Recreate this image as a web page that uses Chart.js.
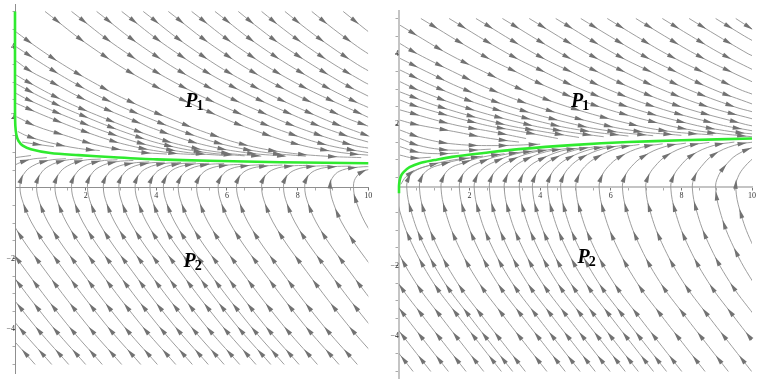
<!DOCTYPE html>
<html><head><meta charset="utf-8">
<script src="https://cdn.jsdelivr.net/npm/chart.js@4.4.1/dist/chart.umd.min.js"></script>
<style>
html,body{margin:0;padding:0;background:#fff;}
#wrap{position:relative;width:766px;height:384px;overflow:hidden;}
canvas{position:absolute;top:0;}
</style></head><body>
<div id="wrap">
<canvas id="c1" width="383" height="384" style="left:0"></canvas>
<canvas id="c2" width="383" height="384" style="left:383px"></canvas>
</div>
<script>
// ---------- tick values / labels ----------
const xTickValues = [0,0.5,1,1.5,2,2.5,3,3.5,4,4.5,5,5.5,6,6.5,7,7.5,8,8.5,9,9.5,10];
const yTickValues = [-5,-4.5,-4,-3.5,-3,-2.5,-2,-1.5,-1,-0.5,0.5,1,1.5,2,2.5,3,3.5,4,4.5,5];
const xMajor = [2,4,6,8,10];
const xTickLabels = ['2','4','6','8','10'];
const yMajor = [-4,-2,2,4];
const yTickLabels = ['\u22124','\u22122','2','4'];

// ---------- region labels ----------
const leftRegionLabels = [{sub:'1', x:4.82, y:2.29}, {sub:'2', x:4.77, y:-2.25}];
const rightRegionLabels = [{sub:'1', x:4.87, y:2.48}, {sub:'2', x:5.06, y:-1.93}];

// ---------- LEFT panel ----------
const leftGreen = [[0,5],[0,4],[0,3],[0,2.2],[0.01,1.75],[0.04,1.5],[0.1,1.33],[0.22,1.2],[0.45,1.1],[1,0.99],[1.8,0.93],[2.8,0.87],[4,0.81],[5.5,0.77],[7.5,0.73],[10,0.7]];

const leftTopLines = [
[[9.29,5],[9.91,4.5],[10,4.43]],
[[8.4,5],[9.02,4.5],[9.7,4],[10,3.8]],
[[7.64,5],[8.26,4.5],[8.94,4],[9.69,3.5],[10,3.32]],
[[6.98,5],[7.6,4.5],[8.28,4],[9.03,3.5],[9.88,3],[10,2.94]],
[[6.32,5],[6.94,4.5],[7.62,4],[9.22,3],[10,2.6]],
[[5.66,5],[6.96,4],[8.56,3],[9.51,2.5],[10,2.28]],
[[5,5],[6.3,4],[7.9,3],[10,2]],
[[4.34,5],[5.64,4],[7.24,3],[9.34,2],[10,1.75]],
[[3.63,5],[4.93,4],[6.53,3],[8.63,2],[9.93,1.5],[10,1.48]],
[[3.02,5],[4.32,4],[5.92,3],[8.02,2],[9.32,1.5],[10,1.3]],
[[2.31,5],[3.61,4],[5.21,3],[7.31,2],[8.61,1.5],[9.61,1.2],[10,1.13]],
[[1.6,5],[2.9,4],[4.5,3],[6.6,2],[7.9,1.5],[8.9,1.2],[10,1.0]],
[[0.85,5],[2.15,4],[3.75,3],[5.85,2],[7.15,1.5],[8.15,1.2],[9.25,1.0],[10,0.93]]
];
const leftEdgeLines = [
[[0.03,4.42],[0.6,4],[1.35,3.5],[2.2,3],[3.15,2.5],[4.3,2],[5.6,1.5],[6.6,1.2],[7.7,1.0],[8.8,0.9],[9.8,0.86]],
[[0.03,4],[0.8,3.5],[1.63,3],[2.58,2.5],[3.73,2],[5.03,1.5],[6.03,1.2],[7.13,1.0],[8.23,0.9]],
[[0.03,3.6],[0.45,3.3],[1.03,3],[1.98,2.5],[3.13,2],[4.43,1.5],[5.43,1.2],[6.53,1.0],[7.63,0.9]],
[[0.03,3.2],[0.37,3],[1.32,2.5],[2.47,2],[3.77,1.5],[4.77,1.2],[5.87,1.0],[6.97,0.9]],
[[0.03,2.95],[0.89,2.5],[2.03,2],[3.33,1.5],[4.33,1.2],[5.43,1.0],[6.5,0.91]],
[[0.03,2.68],[0.37,2.5],[1.52,2],[2.82,1.5],[3.82,1.2],[4.92,1.0],[5.9,0.92]],
[[0.03,2.4],[0.95,2],[2.25,1.5],[3.25,1.2],[4.35,1.0],[5.2,0.94]],
[[0.04,2.02],[0.6,1.75],[1.38,1.5],[2.38,1.2],[3.48,1.02],[4.3,0.96]],
[[0.08,1.6],[0.35,1.47],[1.0,1.28],[1.8,1.12],[2.4,1.06]],
[[0.2,1.3],[0.6,1.24],[1.1,1.17]]
];
const leftArcLines = [
[[0.57,-5],[-0.45,-3.83],[-1.75,-2.13]],
[[1.04,-5],[0.02,-3.83],[-1.28,-2.13]],
[[1.52,-5],[0.5,-3.83],[-0.8,-2.13],[-1.48,-1.14]],
[[2.0,-5],[0.98,-3.83],[-0.32,-2.13],[-1.0,-1.14]],
[[2.47,-5],[1.45,-3.83],[0.15,-2.13],[-0.53,-1.14],[-0.85,-0.45],[-0.95,0.05],[-0.85,0.38],[-0.6,0.62],[-0.15,0.82],[0.45,0.92]],
[[3.02,-5],[2.0,-3.83],[0.7,-2.13],[0.02,-1.14],[-0.3,-0.45],[-0.4,0.05],[-0.3,0.38],[-0.05,0.62],[0.4,0.8],[0.9,0.86]],
[[3.56,-5],[2.54,-3.83],[1.24,-2.13],[0.56,-1.14],[0.24,-0.45],[0.14,0.05],[0.24,0.38],[0.49,0.62],[0.94,0.78],[1.44,0.83]],
[[4.03,-5],[3.01,-3.83],[1.71,-2.13],[1.03,-1.14],[0.71,-0.45],[0.61,0.05],[0.71,0.38],[0.96,0.62],[1.41,0.78],[1.91,0.83]],
[[4.55,-5],[3.53,-3.83],[2.23,-2.13],[1.55,-1.14],[1.23,-0.45],[1.13,0.05],[1.23,0.38],[1.48,0.62],[1.93,0.78],[2.43,0.82]],
[[5.02,-5],[4.0,-3.83],[2.7,-2.13],[2.02,-1.14],[1.7,-0.45],[1.6,0.05],[1.7,0.37],[1.95,0.61],[2.4,0.76],[2.9,0.8]],
[[5.47,-5],[4.45,-3.83],[3.15,-2.13],[2.47,-1.14],[2.15,-0.45],[2.05,0.05],[2.15,0.37],[2.4,0.6],[2.85,0.74],[3.35,0.78]],
[[5.92,-5],[4.9,-3.83],[3.6,-2.13],[2.92,-1.14],[2.6,-0.45],[2.5,0.05],[2.6,0.36],[2.85,0.58],[3.3,0.7],[3.8,0.74]],
[[6.36,-5],[5.34,-3.83],[4.04,-2.13],[3.36,-1.14],[3.04,-0.45],[2.94,0.05],[3.04,0.36],[3.29,0.58],[3.74,0.7],[4.24,0.73]],
[[6.82,-5],[5.8,-3.83],[4.5,-2.13],[3.82,-1.14],[3.5,-0.45],[3.4,0.05],[3.5,0.36],[3.75,0.57],[4.2,0.69],[4.7,0.72]],
[[7.24,-5],[6.22,-3.83],[4.92,-2.13],[4.24,-1.14],[3.92,-0.45],[3.82,0.05],[3.92,0.35],[4.17,0.56],[4.62,0.68],[5.12,0.71]],
[[7.62,-5],[6.6,-3.83],[5.3,-2.13],[4.62,-1.14],[4.3,-0.45],[4.2,0.05],[4.3,0.35],[4.55,0.56],[5.0,0.67],[5.5,0.7]],
[[8.04,-5],[7.02,-3.83],[5.72,-2.13],[5.04,-1.14],[4.72,-0.45],[4.62,0.05],[4.72,0.35],[4.97,0.55],[5.42,0.66],[5.92,0.69]],
[[8.56,-5],[7.54,-3.83],[6.24,-2.13],[5.56,-1.14],[5.24,-0.45],[5.14,0.05],[5.24,0.34],[5.49,0.54],[5.94,0.64],[6.44,0.67]],
[[9.17,-5],[8.15,-3.83],[6.85,-2.13],[6.17,-1.14],[5.85,-0.45],[5.75,0.05],[5.85,0.34],[6.1,0.54],[6.55,0.63],[7.05,0.66]],
[[9.69,-5],[8.67,-3.83],[7.37,-2.13],[6.69,-1.14],[6.37,-0.45],[6.27,0.05],[6.37,0.34],[6.62,0.53],[7.07,0.62],[7.57,0.65]],
[[10.4,-5],[9.38,-3.83],[8.08,-2.13],[7.4,-1.14],[7.08,-0.45],[6.98,0.05],[7.08,0.34],[7.33,0.53],[7.78,0.62],[8.28,0.64]],
[[11.02,-5],[10.0,-3.83],[8.7,-2.13],[8.02,-1.14],[7.7,-0.45],[7.6,0.05],[7.7,0.34],[7.95,0.52],[8.4,0.61],[8.9,0.63]],
[[11.62,-5],[10.6,-3.83],[9.3,-2.13],[8.62,-1.14],[8.3,-0.45],[8.2,0.05],[8.3,0.34],[8.55,0.52],[9.0,0.6],[9.5,0.62]],
[[11.32,-3.83],[10.02,-2.13],[9.34,-1.14],[9.02,-0.45],[8.92,0.05],[9.02,0.34],[9.27,0.51],[9.72,0.59],[10.22,0.61]],
[[10.68,-2.13],[10.0,-1.14],[9.68,-0.45],[9.58,0.05],[9.68,0.34],[9.93,0.5],[10.38,0.58]]
];

// ---------- RIGHT panel ----------
const rightGreen = [[0,0.05],[0,0.25],[0.02,0.42],[0.06,0.55],[0.13,0.65],[0.3,0.79],[0.6,0.91],[1,0.99],[1.5,1.08],[2.4,1.19],[3.4,1.3],[5,1.42],[6.5,1.5],[8,1.55],[10,1.6]];

const rightTopLines = [
[[9.54,5],[10,4.7]],
[[8.97,5],[9.79,4.5],[10,4.38]],
[[8.22,5],[9.04,4.5],[9.89,4],[10,3.95]],
[[7.46,5],[8.28,4.5],[9.13,4],[10,3.56]],
[[6.71,5],[7.53,4.5],[8.38,4],[9.38,3.5],[10,3.21]],
[[5.9,5],[6.72,4.5],[7.57,4],[8.57,3.5],[9.63,3],[10,2.86]],
[[5.15,5],[5.97,4.5],[6.82,4],[7.82,3.5],[8.88,3],[10,2.58]],
[[4.44,5],[6.11,4],[7.11,3.5],[8.17,3],[9.5,2.5],[10,2.36]],
[[3.69,5],[5.36,4],[6.36,3.5],[7.42,3],[8.75,2.5],[10,2.16]],
[[2.93,5],[4.6,4],[5.6,3.5],[6.66,3],[7.99,2.5],[9.81,2],[10,1.96]],
[[2.18,5],[3.85,4],[4.85,3.5],[5.91,3],[7.24,2.5],[9.06,2],[10,1.82]],
[[1.42,5],[3.09,4],[4.09,3.5],[5.15,3],[6.48,2.5],[8.3,2],[9.38,1.8],[10,1.73]],
[[0.62,5],[2.29,4],[3.29,3.5],[4.35,3],[5.68,2.5],[7.5,2],[8.58,1.8],[10,1.65]]
];
const rightEdgeLines = [
[[0.03,4.81],[0.54,4.5],[1.39,4],[2.39,3.5],[3.45,3],[4.78,2.5],[6.6,2],[7.68,1.8],[8.9,1.7]],
[[0.03,4.29],[0.52,4],[1.52,3.5],[2.58,3],[3.91,2.5],[5.73,2],[6.81,1.8],[8.0,1.69]],
[[0.03,3.87],[0.77,3.5],[1.83,3],[3.16,2.5],[4.98,2],[6.06,1.8],[7.2,1.68]],
[[0.03,3.54],[1.17,3],[2.5,2.5],[4.32,2],[5.4,1.8],[6.5,1.67]],
[[0.03,3.21],[0.48,3],[1.81,2.5],[3.63,2],[4.71,1.8],[5.8,1.65]],
[[0.03,2.92],[1.15,2.5],[2.97,2],[4.05,1.8],[5.1,1.63]],
[[0.03,2.69],[0.54,2.5],[2.36,2],[3.44,1.8],[4.5,1.6]],
[[0.03,2.41],[1.52,2],[2.6,1.8],[3.6,1.6]],
[[0.03,2.12],[0.47,2],[1.55,1.8],[2.6,1.6],[3.4,1.5]],
[[0.03,1.84],[0.7,1.6],[1.6,1.44],[2.8,1.4],[4.0,1.44]],
[[0.03,1.6],[0.5,1.42],[1.2,1.29],[2.0,1.27],[2.6,1.3]],
[[0.03,1.37],[0.5,1.22],[1.1,1.17],[1.7,1.19]],
[[0.03,1.13],[0.4,1.05],[0.9,1.07]],
[[0.05,0.3],[0.2,0.52],[0.5,0.72],[1.0,0.88]]
];
const rightArcLines = [
[[0.4,-5],[-0.15,-4.3],[-0.85,-3.4]],
[[0.9,-5],[0.35,-4.3],[-0.35,-3.4]],
[[1.4,-5],[0.85,-4.3],[0.15,-3.4],[-0.55,-2.45]],
[[1.9,-5],[1.35,-4.3],[0.65,-3.4],[-0.05,-2.45],[-0.65,-1.35]],
[[2.4,-5],[1.85,-4.3],[1.15,-3.4],[0.45,-2.45],[-0.15,-1.35],[-0.48,-0.45]],
[[2.9,-5],[2.35,-4.3],[1.65,-3.4],[0.95,-2.45],[0.35,-1.35],[0.02,-0.45],[-0.1,0.2]],
[[3.22,-5],[2.67,-4.3],[1.97,-3.4],[1.27,-2.45],[0.67,-1.35],[0.34,-0.45],[0.22,0.2],[0.28,0.5],[0.45,0.68],[0.8,0.82],[1.4,0.97],[2.0,1.05]],
[[3.58,-5],[3.03,-4.3],[2.33,-3.4],[1.63,-2.45],[1.03,-1.35],[0.7,-0.45],[0.58,0.2],[0.64,0.5],[0.83,0.72],[1.18,0.86],[1.78,1.01],[2.38,1.1]],
[[4.19,-5],[3.64,-4.3],[2.94,-3.4],[2.24,-2.45],[1.64,-1.35],[1.31,-0.45],[1.19,0.2],[1.25,0.5],[1.44,0.75],[1.79,0.9],[2.39,1.08],[2.99,1.17]],
[[4.71,-5],[4.16,-4.3],[3.46,-3.4],[2.76,-2.45],[2.16,-1.35],[1.83,-0.45],[1.71,0.2],[1.77,0.5],[1.96,0.75],[2.31,0.93],[2.91,1.13],[3.51,1.22]],
[[5.13,-5],[4.58,-4.3],[3.88,-3.4],[3.18,-2.45],[2.58,-1.35],[2.25,-0.45],[2.13,0.2],[2.19,0.5],[2.38,0.75],[2.73,0.95],[3.33,1.17],[3.93,1.26]],
[[5.56,-5],[5.01,-4.3],[4.31,-3.4],[3.61,-2.45],[3.01,-1.35],[2.68,-0.45],[2.56,0.2],[2.62,0.5],[2.81,0.76],[3.16,0.98],[3.76,1.2],[4.36,1.3]],
[[5.98,-5],[5.43,-4.3],[4.73,-3.4],[4.03,-2.45],[3.43,-1.35],[3.1,-0.45],[2.98,0.2],[3.04,0.5],[3.23,0.77],[3.58,1.0],[4.18,1.23],[4.78,1.32]],
[[6.41,-5],[5.86,-4.3],[5.16,-3.4],[4.46,-2.45],[3.86,-1.35],[3.53,-0.45],[3.41,0.2],[3.47,0.5],[3.66,0.78],[4.01,1.01],[4.61,1.25],[5.21,1.34]],
[[6.78,-5],[6.23,-4.3],[5.53,-3.4],[4.83,-2.45],[4.23,-1.35],[3.9,-0.45],[3.78,0.2],[3.84,0.5],[4.03,0.78],[4.38,1.03],[4.98,1.27],[5.58,1.37]],
[[7.21,-5],[6.66,-4.3],[5.96,-3.4],[5.26,-2.45],[4.66,-1.35],[4.33,-0.45],[4.21,0.2],[4.27,0.5],[4.46,0.79],[4.81,1.05],[5.41,1.29],[6.01,1.39]],
[[7.58,-5],[7.03,-4.3],[6.33,-3.4],[5.63,-2.45],[5.03,-1.35],[4.7,-0.45],[4.58,0.2],[4.64,0.5],[4.83,0.79],[5.18,1.06],[5.78,1.31],[6.38,1.41]],
[[8.01,-5],[7.46,-4.3],[6.76,-3.4],[6.06,-2.45],[5.46,-1.35],[5.13,-0.45],[5.01,0.2],[5.07,0.5],[5.26,0.8],[5.61,1.07],[6.21,1.33],[6.81,1.43]],
[[8.67,-5],[8.12,-4.3],[7.42,-3.4],[6.72,-2.45],[6.12,-1.35],[5.79,-0.45],[5.67,0.2],[5.73,0.5],[5.92,0.8],[6.27,1.09],[6.87,1.35],[7.47,1.45]],
[[9.33,-5],[8.78,-4.3],[8.08,-3.4],[7.38,-2.45],[6.78,-1.35],[6.45,-0.45],[6.33,0.2],[6.39,0.5],[6.58,0.8],[6.93,1.1],[7.53,1.37],[8.13,1.47]],
[[9.99,-5],[9.44,-4.3],[8.74,-3.4],[8.04,-2.45],[7.44,-1.35],[7.11,-0.45],[6.99,0.2],[7.05,0.5],[7.24,0.8],[7.59,1.12],[8.19,1.39],[8.79,1.49]],
[[10.7,-5],[10.15,-4.3],[9.45,-3.4],[8.75,-2.45],[8.15,-1.35],[7.82,-0.45],[7.7,0.2],[7.76,0.5],[7.95,0.8],[8.3,1.13],[8.9,1.4],[9.5,1.5]],
[[10.76,-4.3],[10.06,-3.4],[9.36,-2.45],[8.76,-1.35],[8.43,-0.45],[8.31,0.2],[8.37,0.5],[8.56,0.8],[8.91,1.14],[9.51,1.41],[10.11,1.51]],
[[10.72,-3.4],[10.02,-2.45],[9.42,-1.35],[9.09,-0.45],[8.97,0.2],[9.03,0.5],[9.22,0.8],[9.57,1.14],[10.17,1.41]],
[[10.59,-2.45],[9.99,-1.35],[9.66,-0.45],[9.54,0.2],[9.6,0.5],[9.79,0.8],[10.14,1.14]]
];

// ---------- drawing helpers ----------
const STREAM = '#939393', ARROW = '#727272', GREEN = '#2fea2f';
const SERIF = '"Liberation Serif","DejaVu Serif",serif';

function toXY(line){ return line.map(p => ({x:p[0], y:p[1]})); }
function streamSets(groups){
  const out = [];
  groups.forEach(g => g.forEach(l => out.push({
    data: toXY(l), showLine:true, borderColor:STREAM, borderWidth:0.9,
    pointRadius:0, pointHoverRadius:0, tension:0.4, clip:0, arrows:true
  })));
  return out;
}

const arrowPlugin = {
  id:'arrows',
  afterDatasetDraw(chart, args){
    const ds = chart.data.datasets[args.index];
    if (!ds.arrows) return;
    const pts = args.meta.data;
    const area = chart.chartArea, ctx = chart.ctx;
    const samp = [];
    for (let j = 0; j < pts.length - 1; j++){
      const a = pts[j], b = pts[j+1];
      const c1x = a.cp2x ?? a.x, c1y = a.cp2y ?? a.y, c2x = b.cp1x ?? b.x, c2y = b.cp1y ?? b.y;
      for (let t = 0; t < 16; t++){
        const u = t/16, v = 1-u;
        samp.push([v*v*v*a.x + 3*v*v*u*c1x + 3*v*u*u*c2x + u*u*u*b.x,
                   v*v*v*a.y + 3*v*v*u*c1y + 3*v*u*u*c2y + u*u*u*b.y]);
      }
    }
    const last = pts[pts.length-1]; samp.push([last.x, last.y]);
    const SP = 30, L = 9.5, W = 4.6;
    let acc = 0, next = 15;
    ctx.save(); ctx.fillStyle = ARROW;
    for (let k = 0; k < samp.length - 1; k++){
      const dx = samp[k+1][0]-samp[k][0], dy = samp[k+1][1]-samp[k][1];
      const d = Math.hypot(dx, dy);
      if (d === 0) continue;
      while (acc + d >= next){
        const f = (next - acc)/d;
        const px = samp[k][0] + dx*f, py = samp[k][1] + dy*f;
        const ux = dx/d, uy = dy/d;
        if (px > area.left + 2 && px < area.right - 2 && py > area.top + 2 && py < area.bottom - 2){
          const tx = px + ux*L*0.55, ty = py + uy*L*0.55;
          const bx = px - ux*L*0.45, by = py - uy*L*0.45;
          ctx.beginPath();
          ctx.moveTo(tx, ty);
          ctx.lineTo(bx - uy*W/2, by + ux*W/2);
          ctx.lineTo(bx + uy*W/2, by - ux*W/2);
          ctx.closePath(); ctx.fill();
        }
        next += SP;
      }
      acc += d;
    }
    ctx.restore();
  }
};

const regionLabelPlugin = {
  id:'regionLabels',
  afterDatasetsDraw(chart, args, opts){
    const ctx = chart.ctx, xs = chart.scales.x, ys = chart.scales.y;
    (opts.items || []).forEach(it => {
      const px = xs.getPixelForValue(it.x), py = ys.getPixelForValue(it.y);
      ctx.save();
      ctx.fillStyle = '#000'; ctx.textBaseline = 'alphabetic'; ctx.textAlign = 'left';
      ctx.font = 'bold italic 20px ' + SERIF;
      ctx.fillText('P', px, py);
      const w = ctx.measureText('P').width;
      ctx.font = 'bold 14px ' + SERIF;
      ctx.fillText(it.sub, px + w - 1, py + 3);
      ctx.restore();
    });
  }
};

function makeChart(id, cfg){
  const datasets = streamSets(cfg.lines);
  datasets.push({data: toXY(cfg.green), showLine:true, borderColor:GREEN, borderWidth:2.6,
                 pointRadius:0, pointHoverRadius:0, tension:0.3, clip:false});
  const axisColor = cfg.axisColor, axisWidth = cfg.axisWidth;
  return new Chart(document.getElementById(id), {
    type:'scatter',
    data:{datasets},
    options:{
      responsive:false, animation:false, events:[],
      layout:{padding:cfg.padding},
      plugins:{legend:{display:false}, tooltip:{enabled:false}, regionLabels:{items:cfg.labels}},
      scales:{
        x:{type:'linear', min:0, max:10, position:{y:cfg.xAxisAt},
           afterBuildTicks(s){ s.ticks = xTickValues.map(v => ({value:v})); },
           afterFit(s){ s.height = 0; s.paddingLeft = 0; s.paddingRight = 0; s.paddingTop = 0; s.paddingBottom = 0; },
           border:{display:true, color:axisColor, width:axisWidth},
           grid:{drawOnChartArea:false, drawTicks:true, tickLength:2.5, tickWidth:1,
                 tickColor: c => xMajor.includes(c.tick && c.tick.value) ? '#777' : '#aaa'},
           ticks:{autoSkip:false, maxRotation:0, minRotation:0, padding:1, color:'#333',
                  font:{family:SERIF, size:8},
                  callback: v => { const i = xMajor.indexOf(v); return i >= 0 ? xTickLabels[i] : ''; }}
        },
        y:{type:'linear', min:cfg.yMin, max:cfg.yMax, position:{x:0},
           afterBuildTicks(s){ s.ticks = yTickValues.map(v => ({value:v})); },
           afterFit(s){ s.width = 0; s.paddingLeft = 0; s.paddingRight = 0; s.paddingTop = 0; s.paddingBottom = 0; },
           border:{display:true, color:axisColor, width:axisWidth},
           grid:{drawOnChartArea:false, drawTicks:true, tickLength:2.5, tickWidth:1,
                 tickColor: c => yMajor.includes(c.tick && c.tick.value) ? '#777' : '#aaa'},
           ticks:{autoSkip:false, padding:2, color:'#333', font:{family:SERIF, size:8},
                  callback: v => { const i = yMajor.indexOf(v); return i >= 0 ? yTickLabels[i] : ''; }}
        }
      }
    },
    plugins:[arrowPlugin, regionLabelPlugin]
  });
}

makeChart('c1', {
  lines:[leftTopLines, leftEdgeLines, leftArcLines], green:leftGreen, labels:leftRegionLabels,
  padding:{left:15, right:14.7, top:4.4, bottom:10.7}, yMin:-5.25, yMax:5.2, xAxisAt:0,
  axisColor:'#8f8f8f', axisWidth:1
});
makeChart('c2', {
  lines:[rightTopLines, rightEdgeLines, rightArcLines], green:rightGreen, labels:rightRegionLabels,
  padding:{left:16, right:14, top:11.1, bottom:5.1}, yMin:-5.21, yMax:5.21, xAxisAt:0.22,
  axisColor:'#c4c4c4', axisWidth:2
});
</script>
</body></html>
